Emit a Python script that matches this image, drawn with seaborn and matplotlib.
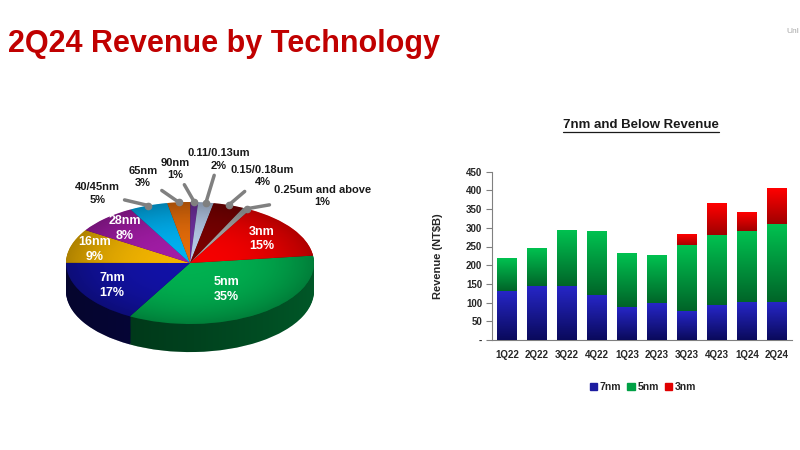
import numpy as np
import pandas as pd
import matplotlib
matplotlib.use('Agg')
import matplotlib.pyplot as plt
import seaborn as sns
from matplotlib.colors import LinearSegmentedColormap, to_rgb
from matplotlib.lines import Line2D
from matplotlib.patches import Patch, Circle, Polygon

# ---- pie data (2Q24 share by technology) ----
tech_names = ['5nm', '7nm', '16nm', '28nm', '40/45nm', '65nm', '90nm',
              '0.11/0.13um', '0.15/0.18um', '0.25um and above', '3nm']
tech_share = [35, 17, 9, 8, 5, 3, 1, 2, 4, 1, 15]

# ---- bar data (NT$B) ----
quarters = ['1Q22', '2Q22', '3Q22', '4Q22', '1Q23', '2Q23', '3Q23', '4Q23', '1Q24', '2Q24']
rev_7nm = [131, 142, 142, 118, 88, 97, 77, 92, 99, 99]
rev_5nm = [88, 104, 152, 173, 142, 130, 174, 189, 192, 211]
rev_3nm = [0, 0, 0, 0, 0, 0, 32, 83, 49, 94]

sns.set_theme(style='white')
plt.rcParams['font.family'] = ['Liberation Sans', 'DejaVu Sans']

fig = plt.figure(figsize=(8, 4.5), dpi=100)

fig.text(8 / 800, 1 - 52 / 450, '2Q24 Revenue by Technology', color='#c00000',
         fontsize=22, fontweight='bold', va='baseline', ha='left')
fig.text(786 / 800, 1 - 33 / 450, 'Unl', color='#a6a6a6', fontsize=6, ha='left')

# ================= 3D-ish pie =================
top_colors = ['#00b050', '#1212a6', '#f2b400', '#a21ca6', '#00b0f0', '#e46c0a',
              '#7030a0', '#b4c8e6', '#7a0000', '#a6a6a6', '#f50000']


def shade(c, f):
    r, g, b = to_rgb(c)
    return (r * f, g * f, b * f)


side_colors = [shade(c, 0.5) for c in top_colors]
start = 7

ax_pie = fig.add_axes([0, 0, 0.5, 1])
depth = 0.46
for d in np.linspace(depth, 0.01, 30):
    ax_pie.pie(tech_share, colors=side_colors, startangle=start, counterclock=False,
               center=(0, -d), wedgeprops=dict(linewidth=0, antialiased=True))
ax_pie.pie(tech_share, colors=top_colors, startangle=start, counterclock=False,
           wedgeprops=dict(linewidth=0))

# lighting on the side wall (darker on the left)
t = np.linspace(np.pi, 2 * np.pi, 120)
side_pts = np.vstack([np.column_stack([np.cos(t), np.sin(t) - depth]),
                      np.column_stack([np.cos(t[::-1]), np.sin(t[::-1])])])
side_clip = Polygon(side_pts, closed=True, transform=ax_pie.transData, facecolor='none')
xs = np.linspace(-1, 1, 200)
side_img = np.zeros((2, 200, 4))
side_img[..., 3] = 0.45 * (1 - (xs + 1) / 2) ** 0.8
im = ax_pie.imshow(side_img, extent=[-1, 1, -1 - depth, 0], aspect='auto', zorder=3,
                   interpolation='bilinear')
im.set_clip_path(side_clip)

# lighting on the top face (darker toward the rim)
gx, gy = np.meshgrid(np.linspace(-1, 1, 200), np.linspace(-1, 1, 200))
rr = np.sqrt(gx ** 2 + gy ** 2)
top_img = np.zeros((200, 200, 4))
top_img[..., 3] = np.clip(0.28 * rr ** 2.5, 0, 0.28)
top_clip = Circle((0, 0), 1, transform=ax_pie.transData, facecolor='none')
im2 = ax_pie.imshow(top_img, extent=[-1, 1, -1, 1], aspect='auto', zorder=3,
                    interpolation='bilinear', origin='lower')
im2.set_clip_path(top_clip)

ax_pie.set_aspect('auto')
ax_pie.set_xlim(-190 / 124, 210 / 124)
ax_pie.set_ylim(-187 / 61, 263 / 61)
ax_pie.axis('off')

fracs = np.array(tech_share) / np.sum(tech_share)
mid = np.deg2rad(start - 360 * (np.cumsum(fracs) - fracs / 2))

inner_r = {'5nm': 0.53, '7nm': 0.73, '16nm': 0.8, '28nm': 0.77, '3nm': 0.70}
outer_off = {'40/45nm': (-51, 12), '65nm': (-36, 25), '90nm': (-19, 33),
             '0.11/0.13um': (13, 43), '0.15/0.18um': (34, 29), '0.25um and above': (76, 13)}

for name, share, a in zip(tech_names, tech_share, mid):
    label = f'{name}\n{share}%'
    if name in inner_r:
        r = inner_r[name]
        ax_pie.text(r * np.cos(a), r * np.sin(a), label, color='white', fontsize=9,
                    fontweight='bold', ha='center', va='center', linespacing=1.3, zorder=6)
    else:
        px, py = np.cos(a), np.sin(a)
        ax_pie.annotate(label, xy=(px, py), xytext=outer_off[name], textcoords='offset pixels',
                        fontsize=8, fontweight='bold', color='#1a1a1a', ha='center', va='center',
                        linespacing=1.3, zorder=6,
                        arrowprops=dict(arrowstyle='-', color='#808080', lw=2.5,
                                        shrinkA=1, shrinkB=0))
        ax_pie.plot(px, py, 'o', color='#808080', ms=4.5, zorder=5)

# ================= stacked bars =================
df = pd.DataFrame({'quarter': quarters, 'n7': rev_7nm, 'n5': rev_5nm, 'n3': rev_3nm})
df['c7'] = df['n7']
df['c5'] = df['n7'] + df['n5']
df['c3'] = df['c5'] + df['n3']

ax = fig.add_axes([492 / 800, 110 / 450, 300 / 800, 168.3 / 450])
bar_w = 0.66
sns.barplot(data=df, x='quarter', y='c3', color='#e00000', saturation=1, width=bar_w,
            linewidth=0, ax=ax, zorder=2)
sns.barplot(data=df, x='quarter', y='c5', color='#00a045', saturation=1, width=bar_w,
            linewidth=0, ax=ax, zorder=2)
sns.barplot(data=df, x='quarter', y='c7', color='#1c1ca0', saturation=1, width=bar_w,
            linewidth=0, ax=ax, zorder=2)

segments = [('c5', 'c3', '#a00000', '#ff0000'),
            ('c7', 'c5', '#006428', '#00c150'),
            (None, 'c7', '#0a0a5c', '#2626c6')]
grad = np.linspace(0, 1, 64).reshape(-1, 1)
for lo_col, hi_col, c_lo, c_hi in segments:
    cmap = LinearSegmentedColormap.from_list('g', [c_lo, c_hi])
    for i in range(len(df)):
        y0 = 0 if lo_col is None else df[lo_col].iloc[i]
        y1 = df[hi_col].iloc[i]
        if y1 - y0 <= 0:
            continue
        ax.imshow(grad, extent=[i - bar_w / 2, i + bar_w / 2, y0, y1], origin='lower',
                  aspect='auto', cmap=cmap, zorder=3, interpolation='bilinear')

ax.set_xlim(-0.5, len(quarters) - 0.5)
ax.set_ylim(0, 450)
ax.set_yticks(np.arange(0, 451, 50))
ax.set_yticklabels(['-'] + [str(v) for v in range(50, 451, 50)])
ax.set_xticks(range(len(quarters)))
ax.set_xticklabels(quarters)
ax.set_xticks(np.arange(-0.5, len(quarters), 1), minor=True)
ax.tick_params(axis='x', which='major', length=0, pad=7, labelsize=7)
ax.tick_params(axis='x', which='minor', length=4, direction='out', color='#808080', width=0.8)
ax.tick_params(axis='y', length=4, direction='out', color='#808080', width=0.8, pad=3, labelsize=7)
ax.tick_params(left=True, bottom=True)
for lbl in ax.get_xticklabels() + ax.get_yticklabels():
    lbl.set_fontweight('bold')
for s in ['top', 'right']:
    ax.spines[s].set_visible(False)
for s in ['left', 'bottom']:
    ax.spines[s].set_color('#808080')
    ax.spines[s].set_linewidth(0.8)
ax.set_xlabel('')
ax.set_ylabel('Revenue (NT$B)', fontsize=8, fontweight='bold')
ax.yaxis.set_label_coords(-(492 - 443) / 300, 0.5)
ax.set_facecolor('none')

title = fig.text(641 / 800, 1 - 125 / 450, '7nm and Below Revenue', fontsize=9.5,
                 fontweight='bold', ha='center', va='center', color='#1a1a1a')

handles = [Patch(color='#1c1ca0'), Patch(color='#00a045'), Patch(color='#e00000')]
fig.legend(handles, ['7nm', '5nm', '3nm'], loc='center', bbox_to_anchor=(643 / 800, 1 - 387 / 450),
           ncol=3, frameon=False, handlelength=0.7, handleheight=0.7, columnspacing=0.6,
           handletextpad=0.25, prop={'weight': 'bold', 'size': 7.5})

# underline for the small title
fig.canvas.draw()
bb = title.get_window_extent(fig.canvas.get_renderer())
uy = (bb.y0 - 1) / fig.bbox.height
fig.add_artist(Line2D([bb.x0 / fig.bbox.width, bb.x1 / fig.bbox.width], [uy, uy],
                      transform=fig.transFigure, color='#1a1a1a', lw=0.9))

fig.savefig('out.png', dpi=100)
